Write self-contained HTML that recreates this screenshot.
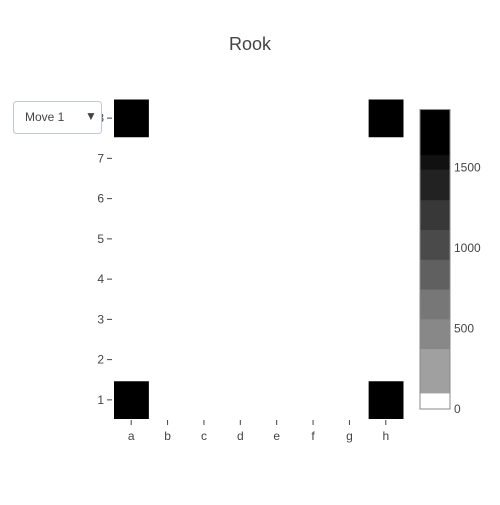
<!DOCTYPE html>
<html><head><style>
body{margin:0;background:#fff;font-family:"Liberation Sans",sans-serif;}
text{font-family:"Liberation Sans",sans-serif;fill:#444;}
</style></head><body>
<svg width="500" height="500">
<text x="250" y="50" text-anchor="middle" font-size="18">Rook</text>
<g id="cells"></g>
<g id="axes"></g>
<g id="cbar"></g>
<g>
<rect x="13.5" y="101.5" width="88" height="32" rx="3" fill="#fff" stroke="#bec8d9"/>
<text x="25" y="121" font-size="12">Move 1</text>
<text x="85" y="120" font-size="12">▼</text>
</g>
</svg>
<script>
const cols=['a','b','c','d','e','f','g','h'];
const rows=[1,2,3,4,5,6,7,8];
const z=[
[1860,0,0,0,0,0,0,1860],
[0,0,0,0,0,0,0,0],[0,0,0,0,0,0,0,0],[0,0,0,0,0,0,0,0],
[0,0,0,0,0,0,0,0],[0,0,0,0,0,0,0,0],[0,0,0,0,0,0,0,0],
[1860,0,0,0,0,0,0,1860]];
const cbTicks=[0,500,1000,1500];
const bandEdges=[0,100,375,560,745,930,1115,1300,1490,1580,1860];
const zmax=1860;
const grays=[255,160,136,119,96,74,56,34,17,0];
const NS='http://www.w3.org/2000/svg';
const X0=113,X1=404,Y0=420,Y1=98;
const cw=(X1-X0)/8,ch=(Y0-Y1)/8;
const xc=i=>X0+cw*(i+0.5), yc=j=>Y0-ch*(j+0.5);
function col(v){let k=0;for(let i=0;i<bandEdges.length-1;i++){if(v>=bandEdges[i])k=i;}const g=grays[k];return `rgb(${g},${g},${g})`;}
const H=document.getElementById('cells');
z.forEach((r,j)=>r.forEach((v,i)=>{
const e=document.createElementNS(NS,'rect');


e.setAttribute('x',xc(i)-cw/2+1);e.setAttribute('y',yc(j)-ch/2+1.5);
e.setAttribute('width',cw-1.5);e.setAttribute('height',ch-2.5);
e.setAttribute('fill',col(v));H.appendChild(e);}));
const A=document.getElementById('axes');
cols.forEach((c,i)=>{
const t=document.createElementNS(NS,'text');


t.setAttribute('x',xc(i));t.setAttribute('y',440);t.setAttribute('text-anchor','middle');t.setAttribute('font-size','12');t.textContent=c;A.appendChild(t);
const l=document.createElementNS(NS,'line');


l.setAttribute('x1',xc(i));l.setAttribute('x2',xc(i));l.setAttribute('y1',Y0);l.setAttribute('y2',Y0+5);l.setAttribute('stroke','#444');A.appendChild(l);});
rows.forEach((r,j)=>{
const t=document.createElementNS(NS,'text');


t.setAttribute('x',104);t.setAttribute('y',yc(j)+4);t.setAttribute('text-anchor','end');t.setAttribute('font-size','12');t.textContent=r;A.appendChild(t);
const l=document.createElementNS(NS,'line');


l.setAttribute('x1',107);l.setAttribute('x2',112);l.setAttribute('y1',yc(j));l.setAttribute('y2',yc(j));l.setAttribute('stroke','#444');A.appendChild(l);});
const C=document.getElementById('cbar');
const CB0=409,pp=80.5/500,cy=v=>CB0-v*pp;
for(let k=0;k<bandEdges.length-1;k++){
const e=document.createElementNS(NS,'rect');


const y1=cy(bandEdges[k+1]),y0=cy(bandEdges[k]);
e.setAttribute('x',420);e.setAttribute('y',y1);e.setAttribute('width',30);e.setAttribute('height',y0-y1+0.5);
e.setAttribute('fill',col(bandEdges[k]));C.appendChild(e);}
const b=document.createElementNS(NS,'rect');


b.setAttribute('x',420);b.setAttribute('y',cy(zmax));b.setAttribute('width',30);b.setAttribute('height',CB0-cy(zmax));b.setAttribute('fill','none');b.setAttribute('stroke','#888');C.appendChild(b);
cbTicks.forEach(v=>{
const t=document.createElementNS(NS,'text');


t.setAttribute('x',454);t.setAttribute('y',cy(v)+4);t.setAttribute('font-size','12');t.textContent=v;C.appendChild(t);});
</script>
</body></html>
